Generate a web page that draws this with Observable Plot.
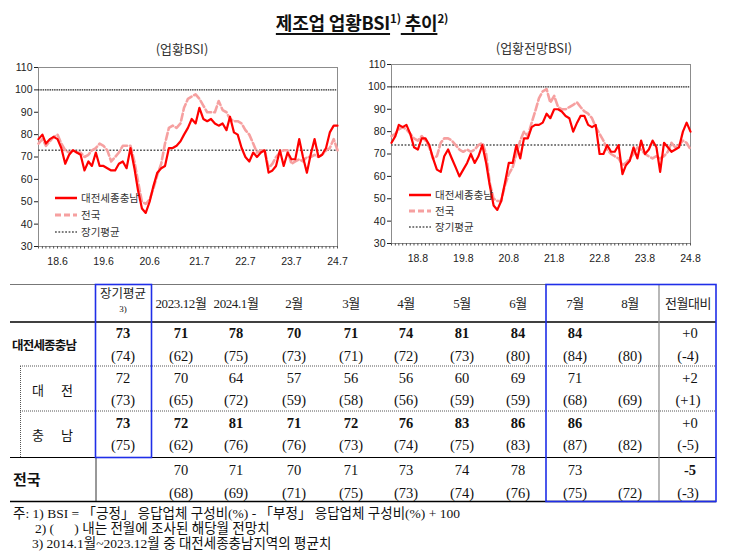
<!DOCTYPE html>
<html><head><meta charset="utf-8">
<script src="https://cdn.jsdelivr.net/npm/d3@7"></script>
<script src="https://cdn.jsdelivr.net/npm/@observablehq/plot@0.6"></script>
<style>
body{margin:0;background:#fff;}
#root{position:relative;width:730px;height:556px;overflow:hidden;font-family:"Noto Sans CJK KR",sans-serif;color:#111;}
.abs{position:absolute;white-space:pre;}
.c{transform:translate(-50%,-50%);}
.num{font-family:"Liberation Serif","Noto Sans CJK KR",serif;font-size:14.5px;color:#111;}
</style></head><body><div id="root"></div>
<script>
// ---------- chart data ----------
const yTicks = [30,40,50,60,70,80,90,100,110];
const leftTickLabels = ["2018-06","2019-06","2020-06","2021-07","2022-07","2023-07","2024-07"];
const rightTickLabels = ["2018-08","2019-08","2020-08","2021-08","2022-08","2023-08","2024-08"];
const leftStart = "2018-01", leftEnd = "2024-07";
const rightStart = "2018-01", rightEnd = "2024-08";
// 업황BSI (2018.1 ~ 2024.7)
const bsiRegion = [78,80,76,78,79,78,74,67,71,73, 72,71,64,68,66,72,66,66,65,64,
  64,67,68,65,74,65,55,47,45,50, 57,63,65,66,74,74,75,77,80,83,
  87,85,92,87,86,87,85,84,85,82, 88,81,80,74,70,68,72,70,72,73,
  63,64,66,73,66,72,69,69,78,70, 63,71,78,70,71,74,81,84,84];
const bsiNational = [76,78,75,77,79,80,76,73,72,73, 72,72,70,71,73,74,76,75,73,68,
  70,72,75,75,75,68,59,50,49,51, 56,62,67,76,83,84,83,85,92,96,
  97,98,96,93,90,90,90,95,91,90, 87,86,86,85,82,80,76,72,73,73,
  65,67,70,72,73,73,67,68,69,68, 70,70,71,70,71,73,74,78,73];
const bsiAvgRegion = 73;
// 업황전망BSI (2018.1 ~ 2024.8)
const outRegion = [75,78,83,82,83,79,73,72,77,77, 74,68,63,62,69,72,68,64,60,63,
  66,70,66,69,74,66,56,47,45,49, 57,66,66,74,68,77,77,82,83,83,
  84,88,86,90,90,89,87,86,80,84, 87,87,83,82,83,70,70,74,71,71,
  74,61,65,67,73,68,76,70,72,76, 73,62,75,73,71,72,73,80,84,80];
const outNational = [78,79,81,82,81,79,77,76,78,76, 73,68,69,75,77,77,76,74,72,71,
  72,71,72,74,75,70,57,50,49,49, 56,61,64,70,76,80,78,84,89,95,
  98,99,93,96,91,90,90,91,92,93, 91,89,88,86,82,79,76,72,70,69,
  68,65,66,68,70,73,72,70,69,68, 69,68,69,71,75,73,74,76,75,72];
const outAvgRegion = 74;
const seriesNames = ["대전세종충남","전국","장기평균"];

// ---------- table data ----------
const tableCols = ["장기평균","2023.12월","2024.1월","2월","3월","4월","5월","6월","7월","8월","전월대비"];
const rowNames = ["대전세종충남","대전","충남","전국"];
const dsjcnActual  = [73,71,78,70,71,74,81,84,84,null];
const dsjcnOutlook = [74,62,75,73,71,72,73,80,84,80];
const djActual     = [72,70,64,57,56,56,60,69,71,null];
const djOutlook    = [73,65,72,59,58,56,59,59,68,69];
const cnActual     = [73,72,81,71,72,76,83,86,86,null];
const cnOutlook    = [75,62,76,76,73,74,75,83,87,82];
const natActual    = [null,70,71,70,71,73,74,78,73,null];
const natOutlook   = [null,68,69,71,75,73,74,76,75,72];
const diffActual   = [0,2,0,-5];
const diffOutlook  = [-4,1,-5,-3];
const footnotes = [
  "주: 1) BSI = 「긍정」 응답업체 구성비(%) - 「부정」 응답업체 구성비(%) + 100",
  "2) (      ) 내는 전월에 조사된 해당월 전망치",
  "3) 2014.1월~2023.12월 중 대전세종충남지역의 평균치"
];

// ---------- helpers ----------
const root = document.getElementById("root");
const pm = d3.utcParse("%Y-%m");
const RED = "#ff0000", PINK = "#f6a0a0";
function add(html, style, cls){const d=document.createElement("div");d.className="abs "+(cls||"");d.innerHTML=html;Object.assign(d.style,style);root.appendChild(d);return d;}

function chart(values, national, avg, start, end, tickLabels, W, mr){
  const dates = d3.utcMonth.range(pm(start), d3.utcMonth.offset(pm(end),1));
  return Plot.plot({
    width: W, height: 211, marginLeft: 38, marginRight: mr, marginTop: 7, marginBottom: 25,
    x: {type:"utc", domain:[dates[0], dates[dates.length-1]]},
    y: {domain:[30,110]},
    style: {fontFamily:"Liberation Sans, Arial, sans-serif", fontSize:"10.5px", color:"#222", background:"transparent", overflow:"visible"},
    marks: [
      Plot.frame({stroke:"#8c8c8c"}),
      Plot.axisY({ticks: yTicks, tickSize: 4, tickPadding: 2, label: null}),
      Plot.axisX({ticks: dates, tickSize: 2.5, tickFormat: () => "", label: null, stroke:"#555"}),
      Plot.axisX({ticks: tickLabels.map(pm), tickSize: 0, tickPadding: 11, tickFormat: d3.utcFormat("%y.%-m"), label: null}),
      Plot.ruleY([100], {stroke:"#222", strokeWidth:1.4, strokeDasharray:"1.5,0.8"}),
      Plot.ruleY([avg], {stroke:"#555", strokeWidth:1.6, strokeDasharray:"1.8,1.6"}),
      Plot.lineY(national, {x: dates, stroke: PINK, strokeWidth: 2.6, strokeDasharray:"7,3"}),
      Plot.lineY(values, {x: dates, stroke: RED, strokeWidth: 2.2})
    ]
  });
}

// ---------- title ----------
add('<span style="text-decoration:underline;text-decoration-thickness:1.5px;text-underline-offset:3px">제조업 업황BSI</span><sup style="font-size:11.5px">1)</sup><span style="text-decoration:underline;text-decoration-thickness:1.5px;text-underline-offset:3px"> 추이</span><sup style="font-size:11.5px">2)</sup>',
  {left:"0px", width:"724px", top:"9px", textAlign:"center", fontWeight:"bold", fontSize:"18px", letterSpacing:"-0.2px"});
add("(업황BSI)", {left:"182px", top:"48px", fontSize:"13px", color:"#333"}, "c");
add("(업황전망BSI)", {left:"534px", top:"47px", fontSize:"13px", color:"#333"}, "c");

// ---------- charts ----------
const c1 = chart(bsiRegion, bsiNational, bsiAvgRegion, leftStart, leftEnd, leftTickLabels, 352, 15);
Object.assign(c1.style, {position:"absolute", left:"0px", top:"60px"}); root.appendChild(c1);
const c2 = chart(outRegion, outNational, outAvgRegion, rightStart, rightEnd, rightTickLabels, 357, 20);
Object.assign(c2.style, {position:"absolute", left:"353px", top:"57px"}); root.appendChild(c2);

// ---------- overlay svg (legends + table rules) ----------
const ov = d3.select(root).append("svg").attr("width",730).attr("height",556)
  .style("position","absolute").style("left","0px").style("top","0px");
function legend(x, ys){
  const st = [{stroke:RED,w:2.5,da:null},{stroke:PINK,w:2.8,da:"6,3"},{stroke:"#555",w:1.6,da:"1.8,1.6"}];
  ys.forEach((y,i)=>{
    ov.append("line").attr("x1",x).attr("x2",x+22).attr("y1",y).attr("y2",y)
      .attr("stroke",st[i].stroke).attr("stroke-width",st[i].w).attr("stroke-dasharray",st[i].da);
    ov.append("text").attr("x",x+26).attr("y",y).attr("dy","0.35em").attr("font-size",10.5)
      .attr("font-family","Noto Sans CJK KR").attr("fill","#333").text(seriesNames[i]);
  });
}
legend(55,[198,215,232]);
legend(409,[195,211,227]);

function hl(x1,x2,y,stroke,w,da){ov.append("line").attr("x1",x1).attr("x2",x2).attr("y1",y).attr("y2",y).attr("stroke",stroke).attr("stroke-width",w).attr("stroke-dasharray",da||null);}
function vl(x,y1,y2,stroke,w,da){ov.append("line").attr("x1",x).attr("x2",x).attr("y1",y1).attr("y2",y2).attr("stroke",stroke).attr("stroke-width",w).attr("stroke-dasharray",da||null);}
hl(10,716,284.5,"#777",1);
hl(10,716,322,"#000",1.6);
hl(20,716,366,"#555",1,"1,1");
hl(20,716,411,"#555",1,"1,1");
vl(20.5,366,457,"#555",1,"1,1");
hl(10,716,457.5,"#000",1.2);
hl(10,716,501.5,"#000",1.5);
vl(96,457,501,"#333",1);
vl(659,284,501,"#888",1.2);
const BLUE = "#1f2ee8";
ov.append("rect").attr("x",95.5).attr("y",284.5).attr("width",56).attr("height",173).attr("fill","none").attr("stroke",BLUE).attr("stroke-width",1.6);
ov.append("rect").attr("x",546).attr("y",284.5).attr("width",170).attr("height",217).attr("fill","none").attr("stroke",BLUE).attr("stroke-width",1.6);

// ---------- table text ----------
const colX = [123,181,236,294,351,406,462,518,575,630,688];
const headerY = 302;
tableCols.forEach((t,i)=>{
  if(i===0){
    add(t,{left:colX[0]+"px",top:"292px",fontSize:"12.5px",fontFamily:"Liberation Serif, Noto Sans CJK KR",color:"#222"},"c");
    add("3)",{left:colX[0]+"px",top:"309px",fontSize:"9px",fontFamily:"Liberation Serif"},"c");
  } else {
    add(t,{left:colX[i]+"px",top:headerY+"px",fontSize:"13px",fontFamily:"Liberation Serif, Noto Sans CJK KR",letterSpacing:"-0.4px",color:"#222"},"c");
  }
});
const rows = [
  [dsjcnActual, dsjcnOutlook],
  [djActual, djOutlook],
  [cnActual, cnOutlook],
  [natActual, natOutlook]
];
const rowYs = [[333,356],[378,400],[423,445],[470,493]];
const fmtDiff = v => (v>=0?"+":"")+v;
rows.forEach(([a,o],r)=>{
  const [y1,y2] = rowYs[r];
  const bold = (r===0||r===2) ? "600" : "normal";
  a.forEach((v,i)=>{ if(v!==null) add(String(v),{left:colX[i]+"px",top:y1+"px",fontWeight:bold},"c num"); });
  o.forEach((v,i)=>{ if(v!==null) add("("+v+")",{left:colX[i]+"px",top:y2+"px"},"c num"); });
  add(fmtDiff(diffActual[r]),{left:(colX[10]+2)+"px",top:y1+"px",fontWeight:(r===3?"bold":"normal")},"c num");
  add("("+fmtDiff(diffOutlook[r])+")",{left:colX[10]+"px",top:y2+"px"},"c num");
});
// row labels
add(rowNames[0],{left:"12px",top:"335px",fontSize:"12.5px",fontWeight:"bold",letterSpacing:"-0.8px"});
const dj = rowNames[1].split(""), cn = rowNames[2].split("");
add(dj[0],{left:"38px",top:"389px",fontSize:"13px"},"c");
add(dj[1],{left:"67px",top:"389px",fontSize:"13px"},"c");
add(cn[0],{left:"38px",top:"434px",fontSize:"13px"},"c");
add(cn[1],{left:"67px",top:"434px",fontSize:"13px"},"c");
add(rowNames[3],{left:"13px",top:"468px",fontSize:"15px",fontWeight:"bold"});

// ---------- footnotes ----------
const fnStyle = {fontSize:"13.5px",fontFamily:"Liberation Serif, Noto Sans CJK KR",color:"#111",letterSpacing:"0px"};
add(footnotes[0],Object.assign({left:"13px",top:"502px"},fnStyle));
add(footnotes[1],Object.assign({left:"35px",top:"517px"},fnStyle));
add(footnotes[2],Object.assign({left:"32px",top:"532px"},fnStyle));
</script></body></html>
